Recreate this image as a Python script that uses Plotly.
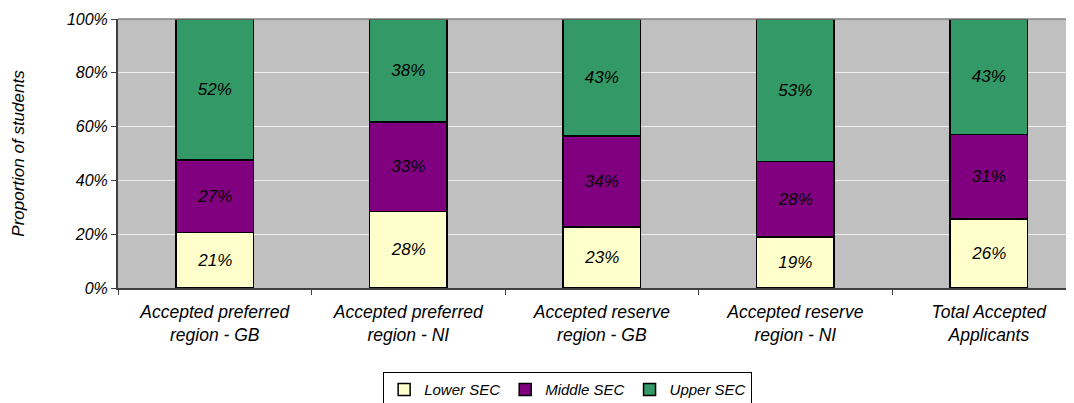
import plotly.graph_objects as go

categories = [
    "Accepted preferred<br>region - GB",
    "Accepted preferred<br>region - NI",
    "Accepted reserve<br>region - GB",
    "Accepted reserve<br>region - NI",
    "Total Accepted<br>Applicants",
]
lower_sec = [20.7, 28.4, 22.6, 19.0, 25.6]
middle_sec = [26.9, 33.4, 33.9, 28.0, 31.4]
upper_sec = [52.4, 38.2, 43.4, 53.0, 43.0]

y_ticks = [0, 20, 40, 60, 80, 100]
y_tick_labels = ["0%", "20%", "40%", "60%", "80%", "100%"]

series = [
    ("Lower SEC", lower_sec, "#FFFFCC"),
    ("Middle SEC", middle_sec, "#800080"),
    ("Upper SEC", upper_sec, "#339966"),
]

font_family = "Liberation Sans, Arial, sans-serif"

fig = go.Figure()
for name, values, color in series:
    fig.add_trace(go.Bar(
        x=categories,
        y=values,
        name=name,
        width=0.4,
        marker=dict(color=color, line=dict(color="black", width=1.5)),
        texttemplate="%{y:.0f}%",
        textposition="inside",
        insidetextanchor="middle",
        textangle=0,
        textfont=dict(family=font_family, size=17, color="black", style="italic"),
        hoverinfo="skip",
    ))

# page body has an 8px margin, so the figure is sized to fit the window
fig.update_layout(
    barmode="stack",
    width=1066,
    height=395,
    paper_bgcolor="white",
    plot_bgcolor="#C0C0C0",
    margin=dict(l=110, r=0, t=11, b=115, autoexpand=False),
    font=dict(family=font_family, size=17, color="black", style="italic"),
    uniformtext=dict(minsize=8, mode="show"),
    showlegend=True,
    legend=dict(
        orientation="h",
        traceorder="normal",
        xref="container",
        yref="container",
        x=0.525,
        y=0.078,
        xanchor="center",
        yanchor="top",
        bordercolor="black",
        borderwidth=1,
        bgcolor="white",
        font=dict(size=15, style="italic"),
        itemwidth=30,
        tracegroupgap=0,
    ),
    shapes=[dict(type="line", xref="paper", yref="paper", x0=0, x1=1, y0=1, y1=1,
                 line=dict(color="#808080", width=1.5))],
)

fig.update_xaxes(
    type="category",
    range=[-0.5, 4.44],
    showgrid=False,
    showline=True,
    linecolor="#404040",
    linewidth=2,
    ticks="outside",
    tickson="boundaries",
    ticklen=5,
    tickcolor="#404040",
    ticklabelstandoff=7,
    tickfont=dict(size=17.5, style="italic"),
)

fig.update_yaxes(
    range=[0, 100],
    tickvals=y_ticks,
    ticktext=y_tick_labels,
    showgrid=True,
    gridcolor="#EEEEEE",
    gridwidth=1,
    zeroline=False,
    showline=True,
    linecolor="#404040",
    linewidth=2,
    ticks="outside",
    ticklen=5,
    tickcolor="#404040",
    tickfont=dict(size=16, style="italic"),
    title=dict(text="Proportion of students", font=dict(size=17, style="italic"), standoff=38),
)

fig.write_html("out.html")
